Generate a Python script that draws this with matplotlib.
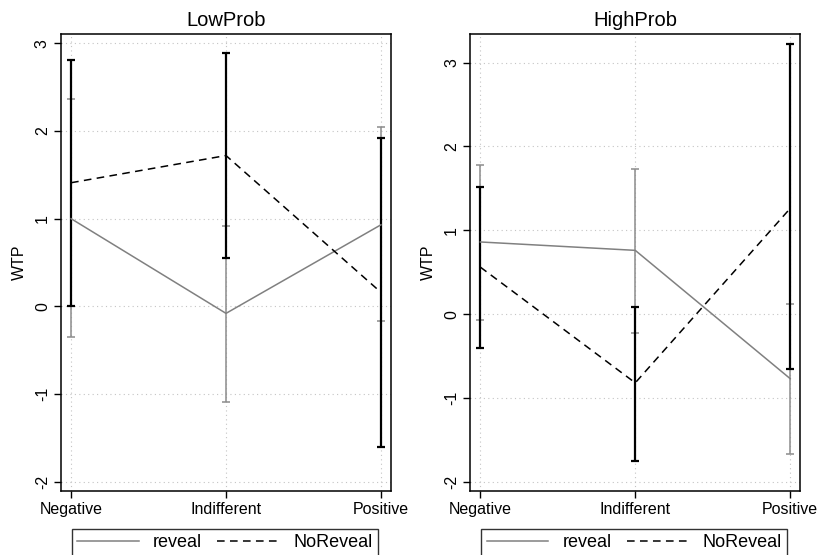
import numpy as np
import matplotlib
matplotlib.use("Agg")
import matplotlib.pyplot as plt

plt.rcParams['font.family'] = ['Liberation Sans', 'DejaVu Sans']

cats = ['Negative', 'Indifferent', 'Positive']
xs = np.arange(len(cats))

# LowProb panel
low_rev = [1.00, -0.08, 0.93]
low_rev_hi = [2.36, 0.92, 2.05]
low_rev_lo = [-0.35, -1.09, -0.17]
low_norev = [1.41, 1.72, 0.16]
low_norev_hi = [2.81, 2.89, 1.92]
low_norev_lo = [0.00, 0.55, -1.60]

# HighProb panel
high_rev = [0.86, 0.76, -0.77]
high_rev_hi = [1.78, 1.73, 0.12]
high_rev_lo = [-0.07, -0.22, -1.67]
high_norev = [0.56, -0.82, 1.26]
high_norev_hi = [1.51, 0.08, 3.22]
high_norev_lo = [-0.40, -1.75, -0.66]

panels = [
    ('LowProb', low_rev, low_rev_lo, low_rev_hi, low_norev, low_norev_lo, low_norev_hi, (-2.106, 3.106)),
    ('HighProb', high_rev, high_rev_lo, high_rev_hi, high_norev, high_norev_lo, high_norev_hi, (-2.11, 3.34)),
]

fig = plt.figure(figsize=(8.19, 5.55), dpi=100)
lefts = [0.0745, 0.5742]

for left, (title, rv, rlo, rhi, nv, nlo, nhi, ylim) in zip(lefts, panels):
    ax = fig.add_axes([left, 0.1153, 0.4029, 0.8234])
    ax.set_axisbelow(True)
    ax.grid(True, ls=(0, (1, 3)), color='#c4c4c4', lw=0.8)

    rv = np.array(rv); nv = np.array(nv)
    ax.errorbar(xs, rv, yerr=[rv - np.array(rlo), np.array(rhi) - rv],
                fmt='none', ecolor='#8c8c8c', elinewidth=1.1, capsize=3, capthick=1.1)
    ax.errorbar(xs, nv, yerr=[nv - np.array(nlo), np.array(nhi) - nv],
                fmt='none', ecolor='black', elinewidth=1.6, capsize=3, capthick=1.6)
    ax.plot(xs, rv, color='#808080', lw=1.1, label='reveal')
    ax.plot(xs, nv, color='black', lw=1.1, ls=(0, (5, 3.5)), label='NoReveal')

    ax.set_xlim(-0.065, 2.065)
    ax.set_ylim(*ylim)
    ax.set_xticks(xs)
    ax.set_xticklabels(cats, fontsize=11.5)
    ax.set_yticks([-2, -1, 0, 1, 2, 3])
    ax.set_yticklabels(['-2', '-1', '0', '1', '2', '3'], rotation=90, va='center', fontsize=11.5)
    ax.tick_params(direction='out', length=5, width=1, pad=3)
    ax.set_ylabel('WTP', fontsize=11.5, labelpad=6)
    ax.set_title(title, fontsize=14.5, pad=6)
    for s in ax.spines.values():
        s.set_linewidth(1.1)

    leg = ax.legend(loc='upper left', bbox_to_anchor=(0.033, -0.083, 0.927, 0.0),
                    mode='expand', ncol=2, fontsize=13, handlelength=3.4,
                    frameon=True, fancybox=False, edgecolor='black', borderpad=0.3,
                    borderaxespad=0)
    leg.get_frame().set_linewidth(1.0)

fig.savefig('out.png', dpi=100)
